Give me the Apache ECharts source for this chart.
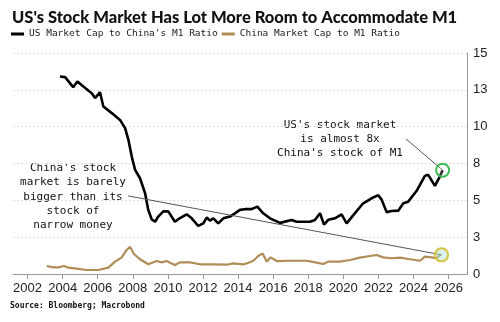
<!DOCTYPE html>
<html>
<head>
<meta charset="utf-8">
<script src="https://cdn.jsdelivr.net/npm/echarts@6/dist/echarts.min.js"></script>
<style>html,body{margin:0;padding:0;background:#fff;}#c{width:500px;height:322px;}</style>
</head>
<body>
<div id="c"></div>
<script>
// ---- Data ----
const usYears = [2003.85,2004.14,2004.6,2004.84,2005.18,2005.66,2005.85,2006.13,2006.32,2006.8,2007.27,2007.56,2007.75,2007.94,2008.13,2008.41,2008.7,2008.88,2009.08,2009.27,2009.45,2009.74,2010.02,2010.12,2010.4,2010.69,2011.07,2011.36,2011.73,2012.02,2012.21,2012.4,2012.59,2012.87,2013.16,2013.54,2013.82,2014.11,2014.39,2014.77,2015.1,2015.43,2015.82,2016.39,2017.05,2017.34,2018.1,2018.38,2018.67,2018.9,2019.14,2019.52,2019.9,2020.19,2020.57,2021.13,2021.61,2021.99,2022.18,2022.47,2022.75,2023.13,2023.42,2023.7,2024.18,2024.65,2024.84,2025.22,2025.5,2025.66];
const usValues = [13.4,13.36,12.68,13.06,12.72,12.27,11.94,12.34,11.37,10.92,10.46,9.9,9.1,7.97,7.07,6.5,5.48,4.35,3.7,3.55,3.9,4.25,4.25,4.3,3.55,3.8,4.05,3.78,3.26,3.44,3.83,3.62,3.78,3.44,3.78,3.9,4.12,4.35,4.4,4.4,4.57,4.12,3.78,3.47,3.67,3.55,3.55,3.67,4.12,3.35,3.68,3.78,4.05,3.44,4.0,4.8,5.14,5.35,5.05,4.2,4.28,4.3,4.8,4.91,5.65,6.66,6.73,5.98,6.61,7.05];
const cnYears = [2003.09,2003.47,2003.76,2004.08,2004.33,2004.8,2005.37,2006.03,2006.6,2006.99,2007.37,2007.61,2007.84,2008.07,2008.41,2008.88,2009.36,2009.65,2009.93,2010.12,2010.4,2010.69,2011.26,2011.83,2012.59,2013.35,2013.73,2014.3,2014.68,2014.87,2015.15,2015.4,2015.63,2015.86,2016.2,2016.96,2017.91,2018.48,2018.86,2019.14,2019.81,2020.38,2020.95,2021.52,2021.9,2022.27,2022.75,2023.23,2023.8,2024.37,2024.65,2025.03,2025.32,2025.5,2025.6];
const cnValues = [0.54,0.45,0.45,0.54,0.43,0.36,0.27,0.27,0.43,0.84,1.13,1.58,1.85,1.36,1.0,0.66,0.88,0.79,0.88,0.77,0.61,0.79,0.79,0.66,0.66,0.63,0.72,0.65,0.8,0.9,1.22,1.4,0.84,1.13,0.88,0.9,0.9,0.77,0.68,0.84,0.84,0.95,1.11,1.22,1.29,1.13,1.07,1.11,1.0,0.9,1.18,1.13,1.07,1.29,1.3];
const xTickYears = [2002,2004,2006,2008,2010,2012,2014,2016,2018,2020,2022,2024,2026];
const seriesNames = ["US Market Cap to China's M1 Ratio", "China Market Cap to M1 Ratio"];
const titleText = "US's Stock Market Has Lot More Room to Accommodate M1";
const sourceText = "Source: Bloomberg; Macrobond";
const usNote = "US's stock market\nis almost 8x\nChina's stock of M1";
const cnNote = "China's stock\nmarket is barely\nbigger than its\nstock of\nnarrow money";
// leader-line anchors in data space (start of the line near the notes)
const usNoteAnchor = [2023.57, 9.17];
const cnNoteAnchor = [2007.73, 5.3];

const usData = usYears.map((y, i) => [y, usValues[i]]);
const cnData = cnYears.map((y, i) => [y, cnValues[i]]);
const usLast = usData[usData.length - 1];
const cnLast = cnData[cnData.length - 1];

const mono = "'DejaVu Sans Mono', 'Liberation Mono', monospace";
const chart = echarts.init(document.getElementById('c'), null, {renderer: 'canvas'});
chart.setOption({
  animation: false,
  backgroundColor: '#fff',
  title: {
    text: titleText, left: 7, top: 4,
    textStyle: {fontFamily: "Lato, 'Open Sans'", fontWeight: 900, fontSize: 16.5, color: '#111'}
  },
  legend: {
    left: 6, top: 24, itemGap: 4, itemWidth: 13, itemHeight: 3,
    icon: 'rect',
    textStyle: {fontFamily: mono, fontSize: 9.5, color: '#222'},
    data: seriesNames
  },
  grid: {left: 13, right: 33, top: 53, bottom: 48},
  xAxis: {
    type: 'value', min: 2001.17, max: 2027.05,
    axisLine: {show: true, lineStyle: {color: '#999'}},
    axisTick: {show: true, customValues: xTickYears, length: 5, lineStyle: {color: '#999'}},
    axisLabel: {customValues: xTickYears, color: '#222', fontFamily: "'Liberation Sans', Arial", fontSize: 13, margin: 8,
      formatter: v => String(Math.round(v))},
    splitLine: {show: false}
  },
  yAxis: {
    type: 'value', position: 'right', min: 0, max: 15, interval: 2.5,
    axisLine: {show: true, lineStyle: {color: '#999'}},
    axisTick: {show: false},
    axisLabel: {color: '#222', fontFamily: "'Liberation Sans', Arial", fontSize: 13, margin: 6,
      formatter: v => String(Math.round(v))},
    splitLine: {show: true, lineStyle: {color: '#ddd', type: [2, 2], width: 1}}
  },
  series: [
    {
      name: seriesNames[0], type: 'line', data: usData, showSymbol: false, symbol: 'none',
      lineStyle: {color: '#000', width: 2.6}, itemStyle: {color: '#000'}, z: 3,
      markLine: {
        silent: true, symbol: 'none', label: {show: false},
        lineStyle: {color: '#555', width: 1, type: 'solid'},
        data: [[{coord: usNoteAnchor}, {coord: usLast}]]
      },
      markPoint: {
        silent: true, symbol: 'circle', symbolSize: 13, label: {show: false},
        itemStyle: {color: 'rgba(255,255,255,0.2)', borderColor: '#3dbb55', borderWidth: 2},
        data: [{coord: usLast}]
      }
    },
    {
      name: seriesNames[1], type: 'line', data: cnData, showSymbol: false, symbol: 'none',
      lineStyle: {color: '#b08d57', width: 2.2}, itemStyle: {color: '#b08d57'}, z: 2,
      markLine: {
        silent: true, symbol: 'none', label: {show: false},
        lineStyle: {color: '#555', width: 1, type: 'solid'},
        data: [[{coord: cnNoteAnchor}, {coord: cnLast}]]
      },
      markPoint: {
        silent: true, symbol: 'circle', symbolSize: 13, label: {show: false},
        itemStyle: {color: 'rgba(180,230,220,0.5)', borderColor: '#d6c340', borderWidth: 2},
        data: [{coord: cnLast}]
      }
    }
  ],
  graphic: [
    {type: 'text', position: [340, 118], style: {text: usNote, x: 0, y: 0, textAlign: 'center', textVerticalAlign: 'top',
      font: "11px 'DejaVu Sans Mono'", lineHeight: 14, fill: '#111'}},
    {type: 'text', position: [73, 161], style: {text: cnNote, x: 0, y: 0, textAlign: 'center', textVerticalAlign: 'top',
      font: "11px 'DejaVu Sans Mono'", lineHeight: 14.3, fill: '#111'}},
    {type: 'text', position: [10, 302], style: {text: sourceText, font: "bold 8px 'DejaVu Sans Mono'", fill: '#111'}}
  ]
});
</script>
</body>
</html>
